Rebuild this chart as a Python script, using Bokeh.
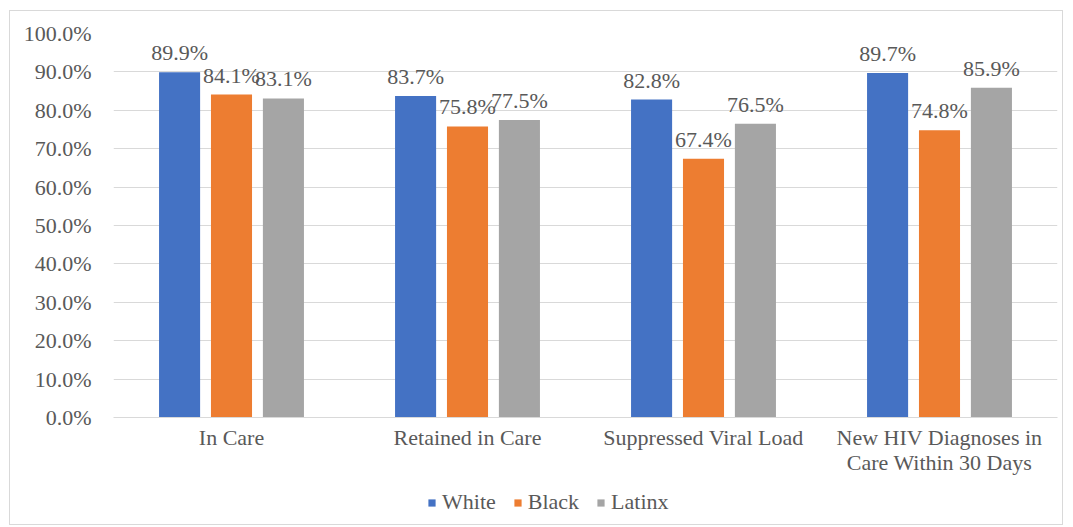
from bokeh.plotting import figure
from bokeh.layouts import column
from bokeh.models import (ColumnDataSource, FactorRange, LabelSet, Legend, LegendItem,
                          PrintfTickFormatter, Range1d, SingleIntervalTicker)
from bokeh.transform import dodge
from bokeh.core.properties import value
from bokeh.embed import file_html
from bokeh.resources import INLINE

categories = ["In Care", "Retained in Care", "Suppressed Viral Load",
              "New HIV Diagnoses in\nCare Within 30 Days"]
series = ["White", "Black", "Latinx"]
white = [89.9, 83.7, 82.8, 89.7]
black = [84.1, 75.8, 67.4, 74.8]
latinx = [83.1, 77.5, 76.5, 85.9]
colors = ["#4472C4", "#ED7D31", "#A5A5A5"]

FONT = "Liberation Serif"
FS = "22px"
TXT = "#595959"

src = ColumnDataSource(dict(
    cat=categories,
    White=white, Black=black, Latinx=latinx,
    White_l=[f"{v:.1f}%" for v in white],
    Black_l=[f"{v:.1f}%" for v in black],
    Latinx_l=[f"{v:.1f}%" for v in latinx],
))

p = figure(x_range=FactorRange(*categories, range_padding=0), y_range=Range1d(0, 100),
           width=1052, height=470, output_backend="svg", toolbar_location=None,
           min_border_left=103, min_border_right=5, min_border_top=22, min_border_bottom=64)
p.outline_line_color = None
p.background_fill_color = "white"
p.border_fill_color = "white"

offsets = [-0.22, 0.0, 0.22]
for s, c, off in zip(series, colors, offsets):
    p.vbar(x=dodge("cat", off, range=p.x_range), top=s, width=0.174, source=src,
           fill_color=c, line_color=None)
    lbl = LabelSet(x=dodge("cat", off, range=p.x_range), y=s, text=s + "_l", source=src,
                   text_align="center", text_baseline="alphabetic", y_offset=12,
                   text_font=value(FONT), text_font_size=FS, text_color=TXT)
    p.add_layout(lbl)

p.yaxis.ticker = SingleIntervalTicker(interval=10)
p.yaxis.formatter = PrintfTickFormatter(format="%.1f%%")
p.yaxis.axis_line_color = None
p.yaxis.major_tick_line_color = None
p.yaxis.minor_tick_line_color = None
p.yaxis.major_label_standoff = 16
p.yaxis.major_label_text_font = FONT
p.yaxis.major_label_text_font_size = FS
p.yaxis.major_label_text_color = TXT

p.xaxis.axis_line_color = "#d9d9d9"
p.xaxis.major_tick_line_color = None
p.xaxis.minor_tick_line_color = None
p.xaxis.major_label_standoff = 1
p.xaxis.major_label_text_font = FONT
p.xaxis.major_label_text_font_size = FS
p.xaxis.major_label_text_line_height = 1.0
p.xaxis.major_label_text_color = TXT

p.xgrid.grid_line_color = None
p.ygrid.grid_line_color = "#d9d9d9"

# legend strip (its frame is aligned with the main frame by the column layout)
leg = figure(width=1052, height=43, x_range=Range1d(0, 1), y_range=Range1d(0, 1),
             output_backend="svg", toolbar_location=None,
             x_axis_location=None, y_axis_location=None,
             min_border_left=0, min_border_right=0, min_border_top=0, min_border_bottom=0)
leg.grid.visible = False
leg.outline_line_color = None
leg.border_fill_color = "white"
hidden = ColumnDataSource(dict(x=[0.5], top=[0.0], bottom=[0.0]))
items = []
for s, c in zip(series, colors):
    rr = leg.vbar(x="x", top="top", bottom="bottom", width=0.0, source=hidden,
                  fill_color=c, line_color=None)
    items.append(LegendItem(label=s, renderers=[rr]))
legend = Legend(items=items, orientation="horizontal", location=(314, 9),
                glyph_width=9, glyph_height=9, label_standoff=6, spacing=17,
                padding=0, margin=0, border_line_color=None, background_fill_alpha=0,
                label_text_font=FONT, label_text_font_size=FS, label_text_color=TXT)
leg.add_layout(legend, "center")

layout = column(p, leg, spacing=0, margin=(10, 0, 0, 9),
                styles={"border": "1px solid #d9d9d9", "background": "white"})

open("out.html", "w").write(file_html(layout, INLINE))
